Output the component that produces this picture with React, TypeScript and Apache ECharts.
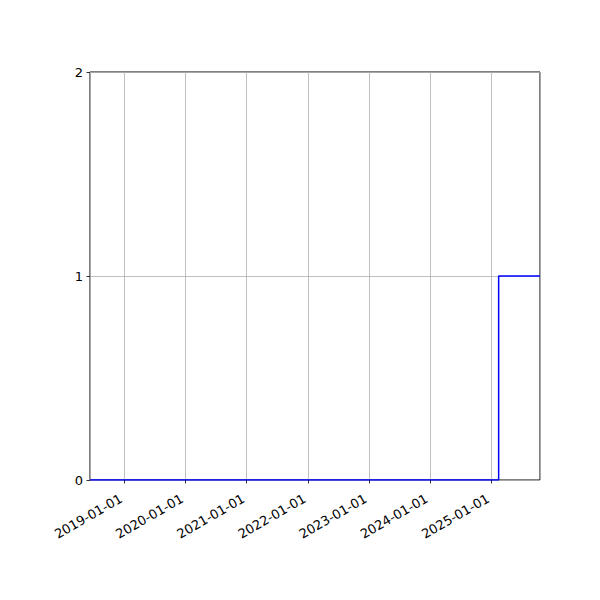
import React, { useEffect, useRef } from 'react';
import * as echarts from 'echarts';

// x 범위 (날짜)
const xStart = '2018-06-10';
const xEnd = '2025-10-19';

// 계단 데이터
const stepDates = ['2018-06-10', '2025-02-14', '2025-10-19'];
const stepValues = [0, 1, 1];

const yTicks = [0, 1, 2];

function App() {
  const chartRef = useRef<HTMLDivElement>(null);

  useEffect(() => {
    if (!chartRef.current) return undefined;

    const font = 'DejaVu Sans';
    const option = {
      animation: false,
      grid: {
        left: 90,
        right: 60,
        top: 72,
        bottom: 120,
        show: true,
        borderColor: '#000000',
        borderWidth: 1,
        backgroundColor: 'transparent',
      },
      xAxis: {
        type: 'time',
        min: xStart,
        max: xEnd,
        minInterval: 365 * 24 * 3600 * 1000,
        splitNumber: 7,
        axisLine: { show: false },
        axisTick: { show: true, length: 3.5, lineStyle: { color: '#000000', width: 0.8 } },
        axisLabel: {
          rotate: 30,
          fontSize: 13,
          color: '#000000',
          fontFamily: font,
          margin: 23,
          verticalAlign: 'bottom',
          showMinLabel: false,
          showMaxLabel: false,
          formatter: '{yyyy}-{MM}-{dd}',
        },
        splitLine: { show: true, lineStyle: { color: '#b0b0b0', width: 0.8 } },
      },
      yAxis: {
        type: 'value',
        min: yTicks[0],
        max: yTicks[yTicks.length - 1],
        interval: 1,
        axisLine: { show: false },
        axisTick: { show: true, length: 3.5, lineStyle: { color: '#000000', width: 0.8 } },
        axisLabel: { fontSize: 13, color: '#000000', fontFamily: font, margin: 7 },
        splitLine: { show: true, lineStyle: { color: '#b0b0b0', width: 0.8 } },
      },
      series: [
        {
          type: 'line',
          step: 'end',
          showSymbol: false,
          lineStyle: { color: '#0000ff', width: 1.5 },
          itemStyle: { color: '#0000ff' },
          data: stepDates.map((d, i) => [d, stepValues[i]]),
        },
      ],
    };

    const myChart = echarts.init(chartRef.current, null, { renderer: 'svg' });
    myChart.setOption(option);

    return () => {
      myChart.dispose();
    };
  }, []);

  return (
    <div
      ref={chartRef}
      style={{
        position: 'fixed',
        left: 0,
        top: 0,
        width: '600px',
        height: '600px',
        background: '#ffffff',
      }}
    />
  );
}

export default App;
